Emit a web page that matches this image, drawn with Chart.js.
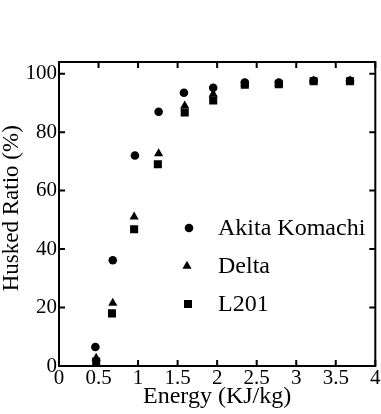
<!DOCTYPE html>
<html>
<head>
<meta charset="utf-8">
<script src="https://cdn.jsdelivr.net/npm/chart.js@4/dist/chart.umd.min.js"></script>
<style>
html,body{margin:0;padding:0;background:#fff;}
#wrap{width:381px;height:414px;position:relative;}
</style>
</head>
<body>
<div id="wrap"><canvas id="c"></canvas></div>
<script>
// ---- data ----
const seriesNames = ['Akita Komachi', 'Delta', 'L201'];
const akitaX = [0.46, 0.68, 0.96, 1.26, 1.58, 1.95, 2.35, 2.78, 3.22, 3.68];
const akitaY = [6.5, 36.2, 72, 87, 93.5, 95.2, 97, 97, 97.6, 97.6];
const deltaX = [0.47, 0.68, 0.95, 1.26, 1.59, 1.95, 2.35, 2.78, 3.22, 3.68];
const deltaY = [2.7, 21.5, 51, 72.7, 89, 93, 96.6, 96.6, 97.6, 97.6];
const l201X  = [0.47, 0.67, 0.95, 1.25, 1.59, 1.95, 2.35, 2.78, 3.22, 3.68];
const l201Y  = [1.5, 18, 46.8, 69, 86.7, 90.8, 96.2, 96.4, 97.4, 97.4];
const xTicks = [0, 0.5, 1, 1.5, 2, 2.5, 3, 3.5, 4];
const xTickLabels = ['0', '0.5', '1', '1.5', '2', '2.5', '3', '3.5', '4'];
const yTicks = [0, 20, 40, 60, 80, 100];
const yTickLabels = ['0', '20', '40', '60', '80', '100'];
const xTitle = 'Energy (KJ/kg)';
const yTitle = '  Husked Ratio (%)';

const toPts = (xs, ys) => xs.map((x, i) => ({x: x, y: ys[i]}));
const SERIF = '"Liberation Serif", "Times New Roman", serif';

const frameTicks = {
  id: 'frameTicks',
  afterDraw(chart) {
    const {ctx, chartArea: a, scales} = chart;
    ctx.save();
    ctx.strokeStyle = '#000';
    ctx.lineWidth = 2;
    ctx.strokeRect(a.left, a.top, a.right - a.left, a.bottom - a.top);
    const L = 6;
    ctx.beginPath();
    scales.x.ticks.forEach(t => {
      const px = scales.x.getPixelForValue(t.value);
      ctx.moveTo(px, a.bottom); ctx.lineTo(px, a.bottom - L);
      ctx.moveTo(px, a.top); ctx.lineTo(px, a.top + L);
    });
    scales.y.ticks.forEach(t => {
      const py = scales.y.getPixelForValue(t.value);
      ctx.moveTo(a.left, py); ctx.lineTo(a.left + L, py);
      ctx.moveTo(a.right, py); ctx.lineTo(a.right - L, py);
    });
    ctx.stroke();
    ctx.restore();
  }
};

const innerLegend = {
  id: 'innerLegend',
  afterDatasetsDraw(chart) {
    const {ctx} = chart;
    const rows = [228, 266, 304];
    const markX = [189, 187, 188];
    ctx.save();
    ctx.fillStyle = '#000';
    ctx.font = '24px ' + SERIF;
    ctx.textBaseline = 'middle';
    ctx.textAlign = 'left';
    chart.data.datasets.forEach((ds, i) => {
      const y = rows[i];
      Chart.helpers.drawPoint(ctx, {
        pointStyle: ds.pointStyle, radius: ds.pointRadius, borderWidth: 0
      }, markX[i], y);
      ctx.fillStyle = '#000';
      ctx.fillText(ds.label, 218, y + 1);
    });
    ctx.restore();
  }
};

new Chart(document.getElementById('c'), {
  type: 'scatter',
  data: {
    datasets: [
      {label: seriesNames[0], data: toPts(akitaX, akitaY), pointStyle: 'circle', pointRadius: 4.3,
       backgroundColor: '#000', borderColor: '#000', borderWidth: 0},
      {label: seriesNames[1], data: toPts(deltaX, deltaY), pointStyle: 'triangle', pointRadius: 5.3,
       backgroundColor: '#000', borderColor: '#000', borderWidth: 0},
      {label: seriesNames[2], data: toPts(l201X, l201Y), pointStyle: 'rect', pointRadius: 5.7,
       backgroundColor: '#000', borderColor: '#000', borderWidth: 0}
    ]
  },
  options: {
    responsive: true,
    maintainAspectRatio: false,
    animation: false,
    events: [],
    layout: {padding: {top: 62, right: 4, left: 0, bottom: 0}},
    plugins: {legend: {display: false}, tooltip: {enabled: false}},
    scales: {
      x: {
        type: 'linear', min: 0, max: 4,
        afterBuildTicks: s => { s.ticks = xTicks.map(v => ({value: v})); },
        afterFit: s => { s.height = 48; },
        grid: {display: false, drawTicks: false},
        border: {display: false},
        ticks: {color: '#000', padding: 0, maxRotation: 0, autoSkip: false,
                font: {family: SERIF, size: 21},
                callback: (v, i) => xTickLabels[i]},
        title: {display: true, text: xTitle, color: '#000',
                font: {family: SERIF, size: 24, lineHeight: 1.2}, padding: {top: 0, bottom: 3}}
      },
      y: {
        type: 'linear', min: 0, max: 104,
        afterBuildTicks: s => { s.ticks = yTicks.map(v => ({value: v})); },
        afterFit: s => { s.width = 59; },
        grid: {display: false, drawTicks: false},
        border: {display: false},
        ticks: {color: '#000', padding: 2, autoSkip: false,
                font: {family: SERIF, size: 21},
                callback: (v, i) => yTickLabels[i]},
        title: {display: true, text: yTitle, color: '#000',
                font: {family: SERIF, size: 23, lineHeight: 1}, padding: {top: 0, bottom: 0}}
      }
    }
  },
  plugins: [frameTicks, innerLegend]
});
</script>
</body>
</html>
